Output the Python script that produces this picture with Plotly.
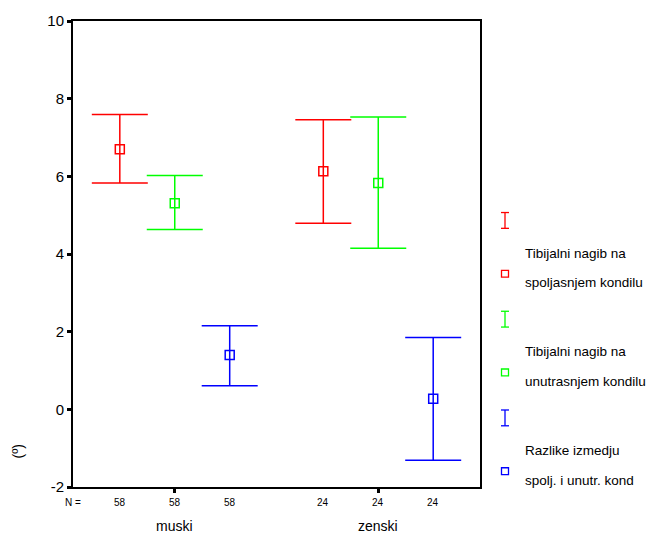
import plotly.graph_objects as go

groups = ["muski", "zenski"]
n_counts = [[58, 58, 58], [24, 24, 24]]
series_names = [
    "Tibijalni nagib na<br>spoljasnjem kondilu",
    "Tibijalni nagib na<br>unutrasnjem kondilu",
    "Razlike izmedju<br>spolj. i unutr. kond",
]
colors = ["#FF0000", "#00FF00", "#0000FF"]
y_ticks = [-2, 0, 2, 4, 6, 8, 10]
y_tick_labels = ["-2", "0", "2", "4", "6", "8", "10"]

# per series: [muski, zenski]
means = [[6.70, 6.13], [5.31, 5.83], [1.40, 0.27]]
upper = [[7.59, 7.46], [6.02, 7.53], [2.15, 1.85]]
lower = [[5.83, 4.79], [4.63, 4.15], [0.61, -1.31]]

FONT = "Liberation Sans, Arial, sans-serif"
W, H = 664, 533
L, R, T, B = 73, 480, 15, 487  # plot area pixel bounds


def px(x):
    return (x - L) / (R - L)


def py(y):
    return (B - y) / (B - T)


offset = 0.27
fig = go.Figure()
for s in range(3):
    xs = [g + 1 + (s - 1) * offset for g in range(len(groups))]
    fig.add_trace(go.Scatter(
        x=xs, y=means[s], mode="markers",
        marker=dict(symbol="square-open", size=9, color=colors[s],
                    line=dict(width=1.5, color=colors[s])),
        error_y=dict(type="data", symmetric=False,
                     array=[u - m for u, m in zip(upper[s], means[s])],
                     arrayminus=[m - l for m, l in zip(means[s], lower[s])],
                     color=colors[s], thickness=1.5, width=28),
        showlegend=False, hoverinfo="skip"))

annotations = []
shapes = []


def note(x, y, text, size, xref="paper", xanchor="center", angle=0):
    annotations.append(dict(x=x, y=y, xref=xref, yref="paper", text=text,
                            xanchor=xanchor, yanchor="middle", textangle=angle,
                            showarrow=False,
                            font=dict(size=size, family=FONT, color="black")))


# N labels
note(0.5, py(503), "N =", 10, xref="x")
for g in range(len(groups)):
    for s in range(3):
        note(g + 1 + (s - 1) * offset, py(503), str(n_counts[g][s]), 10, xref="x")
    note(g + 1, py(527), groups[g], 14, xref="x")

# y axis title
note(px(18), py(451), "(º)", 14, angle=-90)

# legend (drawn manually)
for s in range(3):
    y0 = 217 + 100 * s
    cx = 505
    c = colors[s]
    shapes += [
        dict(type="line", xref="paper", yref="paper", x0=px(cx), x1=px(cx),
             y0=py(y0 - 8), y1=py(y0 + 8), line=dict(color=c, width=1.3)),
        dict(type="line", xref="paper", yref="paper", x0=px(cx - 4), x1=px(cx + 4),
             y0=py(y0 - 8), y1=py(y0 - 8), line=dict(color=c, width=1.3)),
        dict(type="line", xref="paper", yref="paper", x0=px(cx - 4), x1=px(cx + 4),
             y0=py(y0 + 8), y1=py(y0 + 8), line=dict(color=c, width=1.3)),
        dict(type="rect", xref="paper", yref="paper", x0=px(cx - 3.5), x1=px(cx + 3.5),
             y0=py(y0 + 54 - 3.5), y1=py(y0 + 54 + 3.5), line=dict(color=c, width=1.3)),
    ]
    line1, line2 = series_names[s].split("<br>")
    note(px(523), py(y0 + 33), line1, 13.5, xanchor="left")
    note(px(523), py(y0 + 63), line2, 13.5, xanchor="left")

fig.update_layout(
    width=W, height=H,
    margin=dict(l=L, r=W - R, t=T, b=H - B, pad=0),
    paper_bgcolor="white", plot_bgcolor="white",
    font=dict(family=FONT, color="black"),
    xaxis=dict(range=[0.5, 2.5], tickvals=[1, 2], ticktext=["", ""],
               ticks="outside", ticklen=4, tickwidth=3, tickcolor="black",
               showline=True, linewidth=2, linecolor="black", mirror=True,
               showgrid=False, zeroline=False),
    yaxis=dict(range=[-2, 10], tickvals=y_ticks, ticktext=y_tick_labels,
               ticks="outside", ticklen=4, tickwidth=3, tickcolor="black",
               tickfont=dict(size=15, family=FONT, color="black"),
               showline=True, linewidth=2, linecolor="black", mirror=True,
               showgrid=False, zeroline=False),
    annotations=annotations, shapes=shapes,
)

fig.write_html("out.html", config={"displayModeBar": False},
               post_script="document.body.style.margin='0';document.body.style.overflow='hidden';")
